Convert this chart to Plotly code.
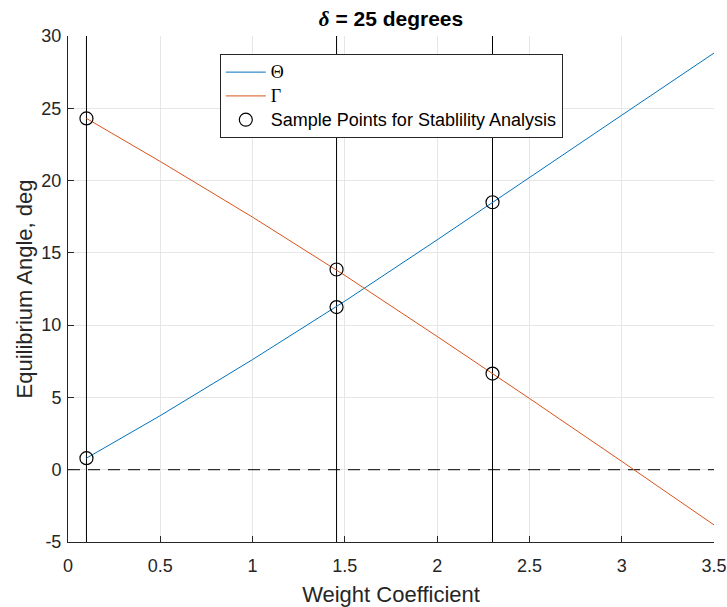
import plotly.graph_objects as go

# Data
x_theta = [0.1, 0.5, 1.0, 1.45, 1.5, 2.0, 2.3, 2.5, 3.0, 3.5]
theta = [0.8, 3.74, 7.62, 11.25, 11.66, 15.9, 18.5, 20.22, 24.52, 28.82]
x_gamma = [0.1, 0.5, 1.0, 1.45, 1.5, 2.0, 2.3, 2.5, 3.0, 3.5]
gamma = [24.3, 21.32, 17.47, 13.85, 13.44, 9.22, 6.65, 4.93, 0.58, -3.82]
sample_x = [0.1, 1.455, 2.3]
sample_theta = [0.8, 11.25, 18.5]
sample_gamma = [24.3, 13.85, 6.65]
x_ticks = [0, 0.5, 1, 1.5, 2, 2.5, 3, 3.5]
x_tick_labels = ["0", "0.5", "1", "1.5", "2", "2.5", "3", "3.5"]
y_ticks = [-5, 0, 5, 10, 15, 20, 25, 30]
y_tick_labels = ["-5", "0", "5", "10", "15", "20", "25", "30"]

FONT = "Liberation Sans, Arial, sans-serif"
SERIF = "Liberation Serif, Times New Roman, serif"
TXT = "#262626"

fig = go.Figure()

# vertical reference lines at sample weights
for v in sample_x:
    fig.add_trace(go.Scatter(x=[v, v], y=[y_ticks[0], y_ticks[-1]], mode="lines",
                             line=dict(color="black", width=1), showlegend=False,
                             hoverinfo="skip"))
# zero dashed line
fig.add_trace(go.Scatter(x=[x_ticks[0], x_ticks[-1]], y=[0, 0], mode="lines",
                         line=dict(color="black", width=1, dash="12px,8px"),
                         showlegend=False, hoverinfo="skip"))

fig.add_trace(go.Scatter(x=x_theta, y=theta, mode="lines",
                         line=dict(color="#0072BD", width=1),
                         name=f'<span style="font-family:{SERIF};font-size:18px">Θ</span>'))
fig.add_trace(go.Scatter(x=x_gamma, y=gamma, mode="lines",
                         line=dict(color="#D95319", width=1),
                         name=f'<span style="font-family:{SERIF};font-size:18px">Γ</span>'))
fig.add_trace(go.Scatter(x=sample_x + sample_x, y=sample_theta + sample_gamma,
                         mode="markers",
                         marker=dict(symbol="circle-open", size=13,
                                     color="black", line=dict(width=1.2, color="black")),
                         name='<span style="font-size:18px">Sample Points for Stablility Analysis</span>'))

fig.update_layout(
    width=727, height=607,
    margin=dict(l=68, r=13, t=36, b=65, autoexpand=False),
    paper_bgcolor="white", plot_bgcolor="white",
    font=dict(family=FONT, color=TXT, size=18),
    title=dict(text=f'<b><i style="font-family:{SERIF}">δ</i> = 25 degrees</b>',
               x=0.5, xanchor="center", xref="paper", y=0.97, yanchor="middle",
               font=dict(size=21, color="black")),
    legend=dict(x=0.235, y=0.964, xanchor="left", yanchor="top",
                bgcolor="white", bordercolor="#262626", borderwidth=1,
                font=dict(size=16, color="black"), tracegroupgap=0,
                itemwidth=40),
    xaxis=dict(range=[x_ticks[0], x_ticks[-1]], tickvals=x_ticks, ticktext=x_tick_labels,
               showgrid=True, gridcolor="#e6e6e6", gridwidth=1,
               ticks="inside", ticklen=6, tickcolor=TXT, showline=True,
               linecolor=TXT, linewidth=1, zeroline=False, automargin=False,
               ticklabelstandoff=7,
               title=dict(text="Weight Coefficient", font=dict(size=22), standoff=12)),
    yaxis=dict(range=[y_ticks[0], y_ticks[-1]], tickvals=y_ticks, ticktext=y_tick_labels,
               showgrid=True, gridcolor="#e6e6e6", gridwidth=1,
               ticks="inside", ticklen=6, tickcolor=TXT, showline=True,
               linecolor=TXT, linewidth=1, zeroline=False, automargin=False,
               ticklabelstandoff=2,
               title=dict(text="Equilibrium Angle, deg", font=dict(size=22), standoff=2)),
)

fig.write_html("out.html")
